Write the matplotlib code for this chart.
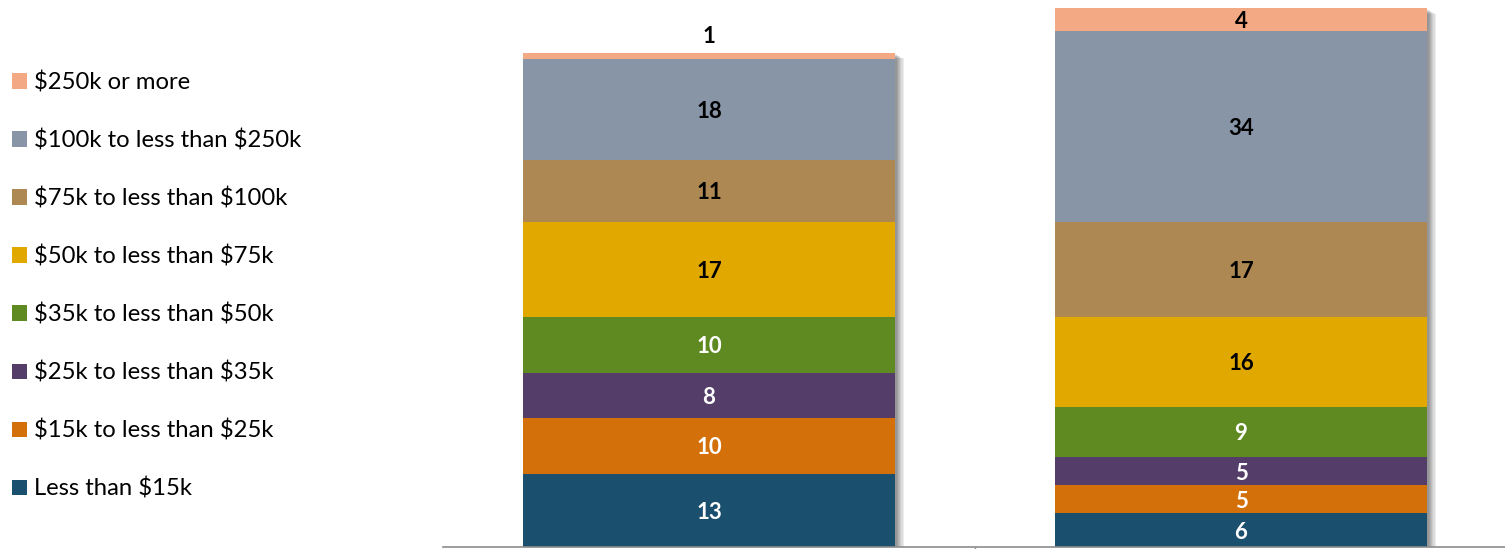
import matplotlib.pyplot as plt
import numpy as np

plt.rcParams['font.family'] = ['Lato', 'DejaVu Sans']
plt.rcParams['text.parse_math'] = False

# income brackets, bottom to top
brackets = ['Less than $15k', '$15k to less than $25k', '$25k to less than $35k',
            '$35k to less than $50k', '$50k to less than $75k', '$75k to less than $100k',
            '$100k to less than $250k', '$250k or more']
colors = ['#1b4f6e', '#d4700a', '#543e69', '#5f8a22', '#e1a900', '#ad8852', '#8795a6', '#f4a985']
label_colors = ['white', 'white', 'white', 'white', 'black', 'black', 'black', 'black']

bar1 = [13, 10, 8, 10, 17, 11, 18, 1]
bar2 = [6, 5, 5, 9, 16, 17, 34, 4]
groups = [bar1, bar2]

fig = plt.figure(figsize=(15.05, 5.49), dpi=100)
ax = fig.add_axes([443 / 1505, 2 / 549, 1064 / 1505, 547 / 549])

x = np.arange(len(groups))
w = 0.70
totals = [sum(g) for g in groups]

# soft shadow behind each full bar
for k in range(7):
    ax.bar(x + 0.003 + k * 0.0022, totals, width=w, bottom=-0.2 - k * 0.12,
           color='black', alpha=0.07, linewidth=0, zorder=1)

bottoms = np.zeros(len(groups))
handles = []
for i, name in enumerate(brackets):
    vals = np.array([g[i] for g in groups])
    h = ax.bar(x, vals, width=w, bottom=bottoms, color=colors[i], linewidth=0,
               label=name, zorder=2)
    handles.append(h)
    for j, v in enumerate(vals):
        if v <= 1:
            ypos = bottoms[j] + v + 3.0
        else:
            ypos = bottoms[j] + v / 2 - 0.35
        ax.text(x[j], ypos, str(v), ha='center', va='center', fontsize=16,
                fontweight='bold', color=label_colors[i], zorder=3)
    bottoms = bottoms + vals

ax.set_xlim(-0.5, 1.5)
ax.set_ylim(0, 97.5)
ax.set_yticks([])
ax.set_xticks([0.5])
ax.set_xticklabels([])
ax.tick_params(axis='x', length=4, color='#8c8c8c', width=1)
for s in ['top', 'right', 'left']:
    ax.spines[s].set_visible(False)
ax.spines['bottom'].set_color('#8c8c8c')
ax.spines['bottom'].set_linewidth(1.2)

leg = fig.legend(handles[::-1], brackets[::-1], loc='upper left',
                 bbox_to_anchor=(12 / 1505, 0.870), frameon=False, fontsize=17.2,
                 handlelength=0.63, handleheight=0.63, handletextpad=0.3,
                 labelspacing=1.51, borderaxespad=0, borderpad=0)

fig.savefig('out.png', dpi=100)
